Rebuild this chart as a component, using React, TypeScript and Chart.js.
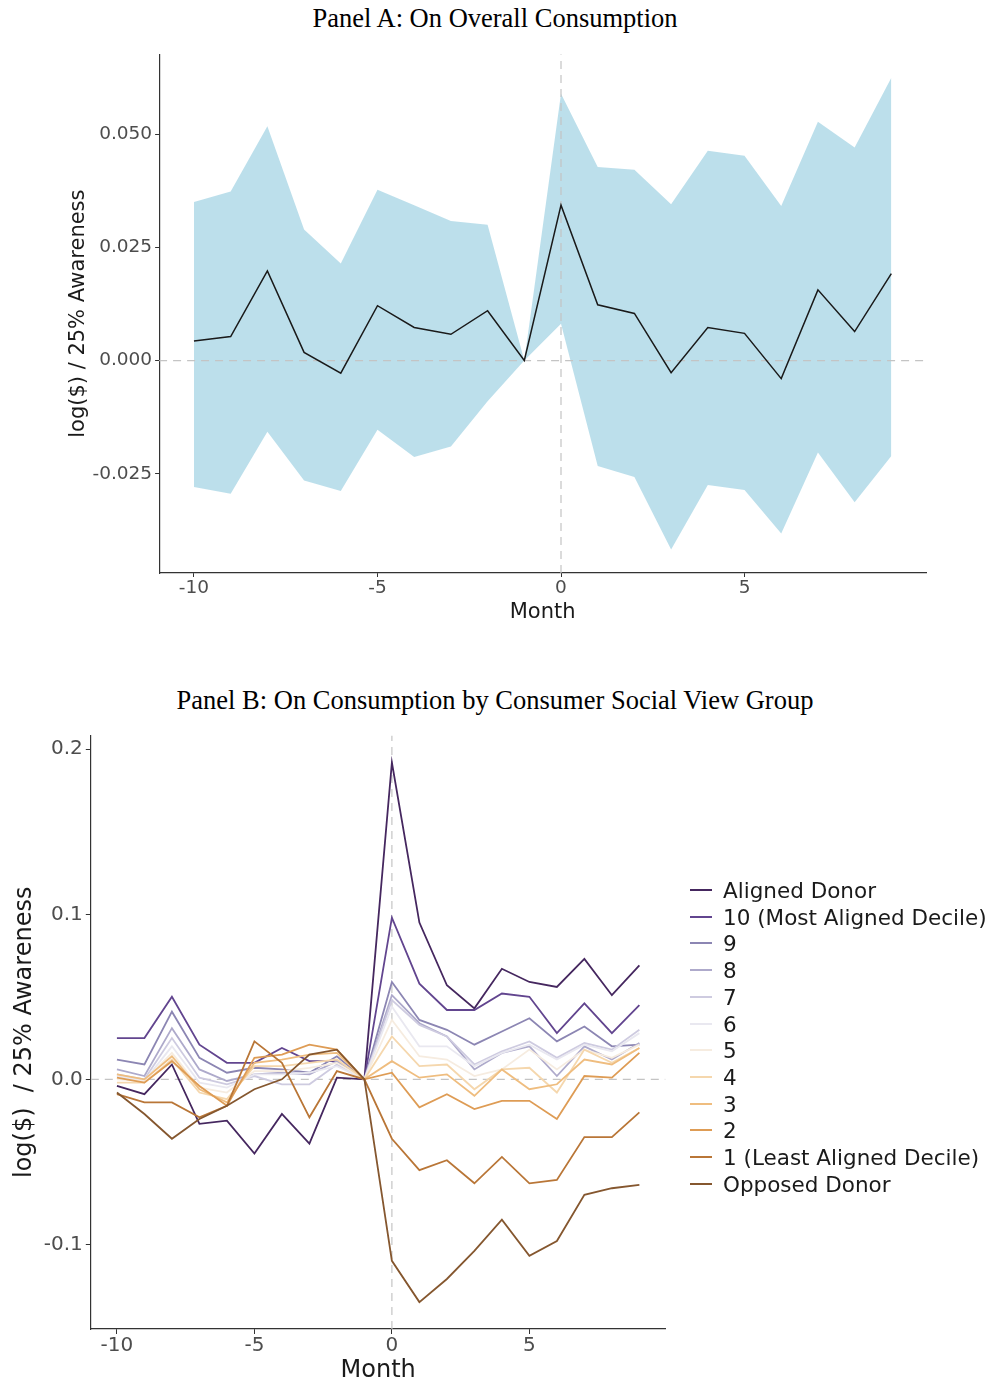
import { useEffect, useRef } from "react"
import { Chart, registerables, type ChartConfiguration } from "chart.js"

Chart.register(...registerables)
Chart.defaults.font.family = "'DejaVu Sans', sans-serif"

// ---- shared x axis ----
const MONTHS = [-10, -9, -8, -7, -6, -5, -4, -3, -2, -1, 0, 1, 2, 3, 4, 5, 6, 7, 8, 9]
const X_TICKS = [-10, -5, 0, 5]
const X_MIN = -10.95
const X_MAX = 9.95

// ---- Panel A: overall consumption ----
const OVERALL_EST = [0.0043, 0.0053, 0.0198, 0.0018, -0.0028, 0.0121, 0.0073, 0.0058, 0.011, 0, 0.0343, 0.0123, 0.0104, -0.0027, 0.0073, 0.006, -0.004, 0.0156, 0.0064, 0.0192]
const OVERALL_HI = [0.035, 0.0373, 0.0517, 0.0289, 0.0214, 0.0377, 0.0343, 0.0308, 0.030, 0, 0.0589, 0.0427, 0.0421, 0.0345, 0.0463, 0.0452, 0.0341, 0.0527, 0.047, 0.0624]
const OVERALL_LO = [-0.0279, -0.0294, -0.0157, -0.0265, -0.0288, -0.0153, -0.0213, -0.019, -0.009, 0, 0.0081, -0.0233, -0.0257, -0.0417, -0.0275, -0.0286, -0.0382, -0.0203, -0.0313, -0.0211]
const A_Y_TICKS = [-0.025, 0, 0.025, 0.05]
const A_Y_MIN = -0.0469
const A_Y_MAX = 0.0676

// ---- Panel B: by social view group ----
const GROUPS = ["Aligned Donor", "10 (Most Aligned Decile)", "9", "8", "7", "6", "5", "4", "3", "2", "1 (Least Aligned Decile)", "Opposed Donor"]
const GROUP_COLORS = ["#45275f", "#62458f", "#8c86b3", "#aeaacb", "#cecbe0", "#e9e8f0", "#f6ece0", "#f5d7ad", "#efbd7f", "#de9c55", "#b97637", "#85572f"]

const ALIGNED_DONOR = [-0.004, -0.009, 0.009, -0.027, -0.025, -0.045, -0.021, -0.039, 0.001, 0, 0.192, 0.095, 0.057, 0.043, 0.067, 0.059, 0.056, 0.073, 0.051, 0.069]
const DECILE_10 = [0.025, 0.025, 0.050, 0.021, 0.010, 0.010, 0.019, 0.011, 0.011, 0, 0.098, 0.058, 0.042, 0.042, 0.052, 0.050, 0.028, 0.046, 0.028, 0.045]
const DECILE_9 = [0.012, 0.009, 0.041, 0.013, 0.004, 0.007, 0.006, 0.004, 0.014, 0, 0.059, 0.036, 0.030, 0.021, 0.029, 0.037, 0.023, 0.032, 0.020, 0.021]
const DECILE_8 = [0.006, 0.002, 0.031, 0.006, -0.001, 0.003, 0.004, 0.003, 0.011, 0, 0.051, 0.034, 0.026, 0.006, 0.016, 0.020, 0.002, 0.020, 0.012, 0.022]
const DECILE_7 = [0.003, 0.000, 0.025, 0.001, -0.003, 0.002, -0.003, -0.003, 0.009, 0, 0.048, 0.033, 0.026, 0.009, 0.017, 0.023, 0.013, 0.022, 0.018, 0.030]
const DECILE_6 = [0.002, -0.001, 0.020, -0.002, -0.005, 0.003, 0.003, 0.004, 0.008, 0, 0.044, 0.020, 0.020, 0.008, 0.016, 0.021, 0.012, 0.021, 0.017, 0.028]
const DECILE_5 = [0.000, -0.001, 0.016, -0.005, -0.008, 0.005, 0.005, 0.007, 0.010, 0, 0.036, 0.014, 0.012, 0.002, 0.006, 0.018, 0.006, 0.018, 0.013, 0.021]
const DECILE_4 = [-0.002, -0.002, 0.012, -0.008, -0.012, 0.008, 0.008, 0.010, 0.012, 0, 0.026, 0.008, 0.009, -0.006, 0.006, 0.007, -0.008, 0.018, 0.010, 0.019]
const DECILE_3 = [0.003, 0.000, 0.014, -0.006, -0.014, 0.010, 0.012, 0.015, 0.016, 0, 0.011, 0.001, 0.003, -0.010, 0.006, -0.006, -0.003, 0.012, 0.009, 0.019]
const DECILE_2 = [0.001, -0.002, 0.011, -0.004, -0.016, 0.013, 0.015, 0.021, 0.018, 0, 0.004, -0.017, -0.009, -0.018, -0.013, -0.013, -0.024, 0.002, 0.001, 0.016]
const DECILE_1 = [-0.009, -0.014, -0.014, -0.023, -0.016, 0.023, 0.010, -0.023, 0.005, 0, -0.036, -0.055, -0.049, -0.063, -0.047, -0.063, -0.061, -0.035, -0.035, -0.020]
const OPPOSED_DONOR = [-0.008, -0.021, -0.036, -0.024, -0.016, -0.006, 0.000, 0.015, 0.018, 0, -0.110, -0.135, -0.121, -0.104, -0.085, -0.107, -0.098, -0.070, -0.066, -0.064]
const B_SERIES = [ALIGNED_DONOR, DECILE_10, DECILE_9, DECILE_8, DECILE_7, DECILE_6, DECILE_5, DECILE_4, DECILE_3, DECILE_2, DECILE_1, OPPOSED_DONOR]
const B_Y_TICKS = [-0.1, 0, 0.1, 0.2]
const B_Y_MIN = -0.1513
const B_Y_MAX = 0.2083

const AXIS_COLOR = "#333333"
const TICK_TEXT = "#4d4d4d"
const TITLE_TEXT = "#1a1a1a"
const REF_COLOR = "#c4c4c4"

const pts = (vals: number[]) => MONTHS.map((m, i) => ({ x: m, y: vals[i] }))

function refLines(yMin: number, yMax: number) {
  const common = { borderColor: REF_COLOR, borderWidth: 1.2, borderDash: [8, 6], pointRadius: 0, fill: false }
  return [
    { ...common, label: "h0", data: [{ x: X_MIN, y: 0 }, { x: X_MAX, y: 0 }] },
    { ...common, label: "v0", data: [{ x: 0, y: yMin }, { x: 0, y: yMax }] },
  ]
}

function xAxis(tickSize: number, titleSize: number, titleLH: number, titlePad: number, height: number, tickLength: number) {
  return {
    type: "linear" as const,
    min: X_MIN,
    max: X_MAX,
    afterBuildTicks: (axis: any) => { axis.ticks = X_TICKS.map(v => ({ value: v })) },
    afterFit: (axis: any) => { axis.height = height },
    grid: { drawOnChartArea: false, drawTicks: true, tickLength, tickColor: AXIS_COLOR },
    border: { display: true, color: AXIS_COLOR, width: 1.2 },
    ticks: { color: TICK_TEXT, font: { size: tickSize }, padding: 0, maxRotation: 0, autoSkip: false, callback: (v: any) => String(v) },
    title: { display: true, text: "Month", color: TITLE_TEXT, font: { size: titleSize, lineHeight: titleLH }, padding: { top: 0, bottom: titlePad } },
  }
}

function yAxis(min: number, max: number, ticksList: number[], decimals: number, tickSize: number, title: string, titleSize: number, titlePad: number, width: number, tickLength: number, tickPad: number) {
  return {
    type: "linear" as const,
    min,
    max,
    afterBuildTicks: (axis: any) => { axis.ticks = ticksList.map(v => ({ value: v })) },
    afterFit: (axis: any) => { axis.width = width },
    grid: { drawOnChartArea: false, drawTicks: true, tickLength, tickColor: AXIS_COLOR },
    border: { display: true, color: AXIS_COLOR, width: 1.2 },
    ticks: { color: TICK_TEXT, font: { size: tickSize }, padding: tickPad, callback: (v: any) => Number(v).toFixed(decimals) },
    title: { display: true, text: title, color: TITLE_TEXT, font: { size: titleSize }, padding: { top: titlePad, bottom: 0 } },
  }
}

function PanelA() {
  const canvasRef = useRef<HTMLCanvasElement>(null)

  useEffect(() => {
    if (!canvasRef.current) return
    const config: ChartConfiguration = {
      type: "line",
      data: {
        datasets: [
          { label: "Estimate", data: pts(OVERALL_EST), borderColor: "#1a1a1a", borderWidth: 1.5, pointRadius: 0, fill: false },
          ...refLines(A_Y_MIN, A_Y_MAX),
          { label: "Upper", data: pts(OVERALL_HI), borderWidth: 0, borderColor: "rgba(0,0,0,0)", backgroundColor: "rgba(173,216,230,0.82)", pointRadius: 0, fill: "+1" },
          { label: "Lower", data: pts(OVERALL_LO), borderWidth: 0, borderColor: "rgba(0,0,0,0)", pointRadius: 0, fill: false },
        ] as any,
      },
      options: {
        responsive: false,
        animation: false,
        layout: { padding: { top: 14.3, right: 63.8, bottom: 0, left: 0 } },
        elements: { line: { tension: 0 } },
        plugins: { legend: { display: false }, tooltip: { enabled: false } },
        scales: {
          x: xAxis(18.5, 21, 1.2, 15, 67, 4) as any,
          y: yAxis(A_Y_MIN, A_Y_MAX, A_Y_TICKS, 3, 18.5, "log($) / 25% Awareness", 21, 66, 159.1, 4, 3) as any,
        },
      },
    }
    const chart = new Chart(canvasRef.current, config)
    return () => chart.destroy()
  }, [])

  return <canvas ref={canvasRef} width={990} height={600} style={{ display: "block", width: 990, height: 600 }} />
}

function PanelB() {
  const canvasRef = useRef<HTMLCanvasElement>(null)

  useEffect(() => {
    if (!canvasRef.current) return
    const lines = B_SERIES.map((vals, i) => ({
      label: GROUPS[i],
      data: pts(vals),
      borderColor: GROUP_COLORS[i],
      borderWidth: 1.8,
      pointRadius: 0,
      fill: false,
    })).reverse()
    const config: ChartConfiguration = {
      type: "line",
      data: { datasets: [...lines, ...refLines(B_Y_MIN, B_Y_MAX)] as any },
      options: {
        responsive: false,
        animation: false,
        layout: { padding: { top: 15.6, right: 324.5, bottom: 0, left: 0 } },
        elements: { line: { tension: 0 } },
        plugins: { legend: { display: false }, tooltip: { enabled: false } },
        scales: {
          x: xAxis(20, 24, 1, 0, 54, 5) as any,
          y: yAxis(B_Y_MIN, B_Y_MAX, B_Y_TICKS, 1, 20, "log($)  / 25% Awareness", 24, 10.6, 90.8, 5, 3) as any,
        },
      },
    }
    const chart = new Chart(canvasRef.current, config)
    return () => chart.destroy()
  }, [])

  return <canvas ref={canvasRef} width={990} height={663} style={{ display: "block", width: 990, height: 663 }} />
}

const panelTitle: React.CSSProperties = {
  position: "absolute", left: 0, width: 990, textAlign: "center",
  fontFamily: "'Liberation Serif', 'Times New Roman', serif", fontSize: 26.5, lineHeight: "30px", color: "#000",
}

export default function App() {
  useEffect(() => { document.body.style.margin = "0" }, [])

  return (
    <div style={{ position: "relative", width: 990, height: 1383, overflow: "hidden", background: "#fff" }}>
      <div style={{ ...panelTitle, top: 3 }}>Panel A: On Overall Consumption</div>
      <div style={{ position: "absolute", left: 0, top: 40 }}><PanelA /></div>

      <div style={{ ...panelTitle, top: 685 }}>Panel B: On Consumption by Consumer Social View Group</div>
      <div style={{ position: "absolute", left: 0, top: 720 }}><PanelB /></div>

      {GROUPS.map((g, i) => (
        <div key={g} style={{ position: "absolute", left: 690, top: Math.round(877 + i * 26.7), height: 26, display: "flex", alignItems: "center", whiteSpace: "nowrap", fontFamily: "'DejaVu Sans', sans-serif", fontSize: 21.5, color: TITLE_TEXT }}>
          <span style={{ display: "inline-block", width: 22, height: 2, background: GROUP_COLORS[i], marginRight: 11 }} />
          {g}
        </div>
      ))}
    </div>
  )
}
